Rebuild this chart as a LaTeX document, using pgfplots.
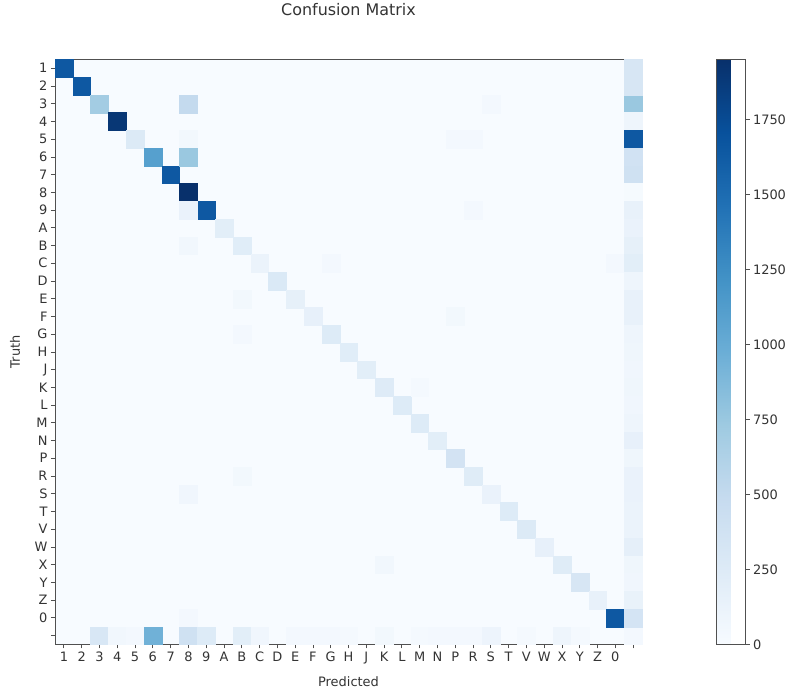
\documentclass[border=0pt]{standalone}
\usepackage{fontspec}
\setmainfont{DejaVu Sans}
\usepackage{pgfplots}
\pgfplotsset{compat=1.18}
\definecolor{bl0}{RGB}{247,251,255}
\definecolor{framegray}{RGB}{80,80,80}
\pgfplotsset{
  colormap={blues}{rgb255=(247,251,255) rgb255=(222,235,247) rgb255=(198,219,239) rgb255=(158,202,225) rgb255=(107,174,214) rgb255=(66,146,198) rgb255=(33,113,181) rgb255=(8,81,156) rgb255=(8,48,107)},
}
\begin{document}
\begin{tikzpicture}
\begin{axis}[
  name=cm,
  scale only axis,
  width=587bp, height=585bp,
  xmin=-0.5, xmax=32.5, ymin=-0.5, ymax=32.5,
  axis on top,
  axis background/.style={fill=bl0},
  axis line style={framegray, line width=0.9bp},
  colormap name=blues,
  point meta min=0, point meta max=1950,
  xtick={0,...,32}, ytick={0,...,32},
  xticklabels={1,2,3,4,5,6,7,8,9,A,B,C,D,E,F,G,H,J,K,L,M,N,P,R,S,T,V,W,X,Y,Z,0,{}},
  yticklabels={{},0,Z,Y,X,W,V,T,S,R,P,N,M,L,K,J,H,G,F,E,D,C,B,A,9,8,7,6,5,4,3,2,1},
  tick align=outside,
  xtick pos=bottom, ytick pos=left,
  major tick length=4bp,
  tick style={framegray, line width=0.8bp},
  ticklabel style={font=\fontsize{13}{15}\selectfont, text=black!80},
  title={Confusion Matrix},
  title style={at={(axis description cs:0.5,1)}, anchor=base, yshift=38bp, font=\fontsize{16}{18}\selectfont, text=black!80},
  xlabel={Predicted},
  xlabel style={at={(axis description cs:0.5,0)}, anchor=base, yshift=-42bp, font=\fontsize{13}{15}\selectfont, text=black!80},
  ylabel={Truth},
  ylabel style={at={(axis description cs:-0.068,0.5)}, anchor=center, font=\fontsize{13}{15}\selectfont, text=black!80},
  /pgf/number format/assume math mode=true,
  /pgf/number format/1000 sep={},
  colorbar,
  colorbar style={
    at={(parent axis.north east)}, anchor=north west, xshift=66bp,
    width=29bp, height=585bp, scale only axis,
    ytick={0,250,...,1750},
    scaled y ticks=false,
    axis line style={framegray, line width=0.9bp},
    tick align=outside, major tick length=4bp,
    ytick pos=right, yticklabel pos=right,
    tick style={framegray, line width=0.8bp},
    yticklabel style={font=\fontsize{13}{15}\selectfont, text=black!80, /pgf/number format/assume math mode=true, /pgf/number format/1000 sep={}},
  },
]
\addplot[scatter, only marks, mark=square*, mark size=8.9bp,
  scatter/use mapped color={draw=mapped color, fill=mapped color},
  mark options={line width=0.2bp},
  point meta=explicit]
table[x=x, y expr=32-\thisrow{y}, meta=c] {
x y c
0 0 1650
1 1 1650
2 2 700
3 3 1900
4 4 260
5 5 1100
6 6 1650
7 7 1950
8 8 1650
9 9 200
10 10 220
11 11 120
12 12 280
13 13 170
14 14 160
15 15 250
16 16 220
17 17 200
18 18 240
19 19 250
20 20 250
21 21 200
22 22 360
23 23 230
24 24 130
25 25 250
26 26 260
27 27 160
28 28 230
29 29 320
30 30 150
31 31 1650
32 32 40
7 2 500
32 2 750
24 2 40
32 0 320
32 1 320
32 3 90
7 4 50
22 4 40
23 4 40
32 4 1650
7 5 750
32 5 380
32 6 400
32 7 20
7 8 130
23 8 40
32 8 150
32 9 130
7 10 60
32 10 170
15 11 40
31 11 40
32 11 200
32 12 90
10 13 50
32 13 150
22 14 50
32 14 150
10 15 40
32 15 90
32 16 80
32 17 70
20 18 30
32 18 80
32 19 70
32 20 90
32 21 160
32 22 80
10 23 50
32 23 130
7 24 70
32 24 130
32 25 120
32 26 120
32 27 180
18 28 60
32 28 80
32 29 70
32 30 140
7 31 40
32 31 350
2 32 300
3 32 60
4 32 40
5 32 950
7 32 400
8 32 250
10 32 200
11 32 70
13 32 40
14 32 40
15 32 40
16 32 30
18 32 50
20 32 30
21 32 40
22 32 40
23 32 40
24 32 100
26 32 30
28 32 90
29 32 30
};
\end{axis}
\path (cm.south west) ++(-55bp,-51bp) rectangle ++(795bp,694bp);
\end{tikzpicture}
\end{document}
